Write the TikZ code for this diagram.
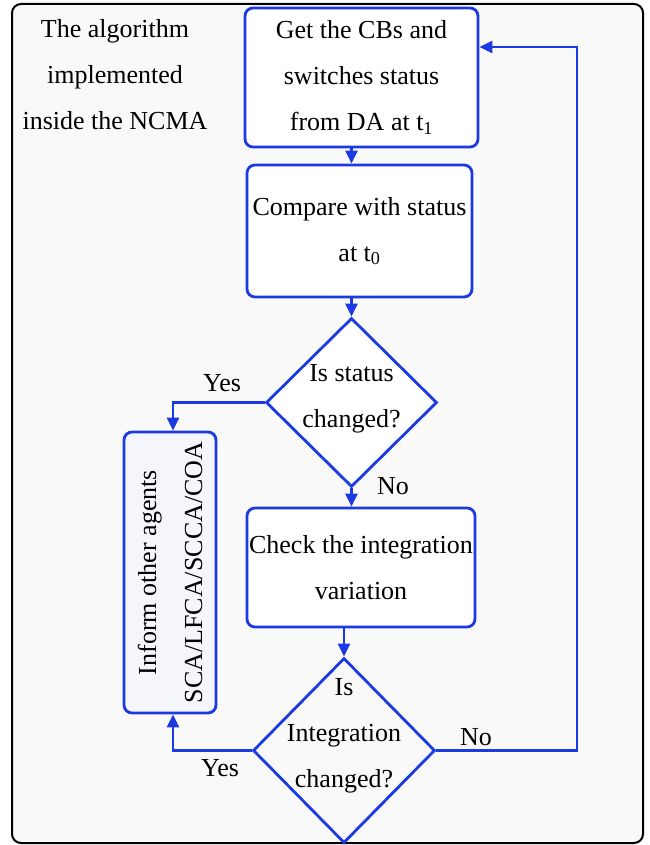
\documentclass[tikz,border=0pt]{standalone}
\usepackage{fontspec}
\setmainfont{Liberation Serif}
\usepackage{tikz}
\usetikzlibrary{arrows.meta,positioning,shapes.geometric}
\definecolor{flowblue}{RGB}{28,58,226}
\definecolor{panelgray}{RGB}{249,249,249}
\definecolor{informfill}{RGB}{244,246,252}

\begin{document}
\begin{tikzpicture}[x=1pt,y=-1pt,
  txt/.style={font=\fontsize{26}{46}\selectfont, align=center, inner sep=0pt},
  stepbox/.style={txt, draw=flowblue, line width=2.8pt, rounded corners=8pt, fill=white},
  decision/.style={draw=flowblue, line width=2.8pt, diamond, inner sep=0pt, fill=white},
  flow/.style={draw=flowblue, line width=2.8pt, -{Triangle[length=13pt,width=12pt]}}]
  \useasboundingbox (0,0) rectangle (649,845);
  \draw[line width=2pt, rounded corners=9pt, fill=panelgray] (12,4) rectangle (643,843);
  \node[txt] (title) at (115,75) {The algorithm\\implemented\\inside the NCMA};
  % main column
  \node[stepbox, minimum width=233pt, minimum height=139pt] (get) at (361.5,77.5) {Get the CBs and\\switches status\\from DA at t\textsubscript{1}};
  \node[stepbox, minimum width=225pt, minimum height=132pt] (cmp) at (359.5,231) {Compare with status\\at t\textsubscript{0}};
  \node[decision, minimum width=171pt, minimum height=169pt] (d1) at (351.5,402.5) {};
  \node[txt] (d1t) at (351.5,399) {Is status\\changed?};
  \node[stepbox, minimum width=228pt, minimum height=119pt] (chk) at (361,567.5) {Check the integration\\variation};
  \node[decision, minimum width=182pt, minimum height=185pt, fill=panelgray] (d2) at (344,750.5) {};
  \node[txt] (d2t) at (344,736) {Is\\Integration\\changed?};
  \node[stepbox, fill=informfill, rotate=90, minimum width=281pt, minimum height=92pt] (inform) at (170,572.5) {Inform other agents\\SCA/LFCA/SCCA/COA};
  \coordinate (back) at (577,47);
  % connectors
  \draw[flow] (get.south -| d1.north) -- (cmp.north -| d1.north);
  \draw[flow] (cmp.south -| d1.north) -- (d1.north);
  \draw[flow] (d1.south) -- (d1.south |- chk.north);
  \draw[flow] (chk.south -| d2.north) -- (d2.north);
  \draw[flow] (d1.west) -| ([xshift=3pt]inform.east);
  \draw[flow] (d2.west) -| ([xshift=3pt]inform.west);
  \draw[flow] (d2.east) -| (back) -- (back -| get.east);
  \node[txt] (yes1) at (222,383) {Yes};
  \node[txt] (no1) at (393,486) {No};
  \node[txt] (yes2) at (220,768) {Yes};
  \node[txt] (no2) at (476,737) {No};
\end{tikzpicture}
\end{document}
